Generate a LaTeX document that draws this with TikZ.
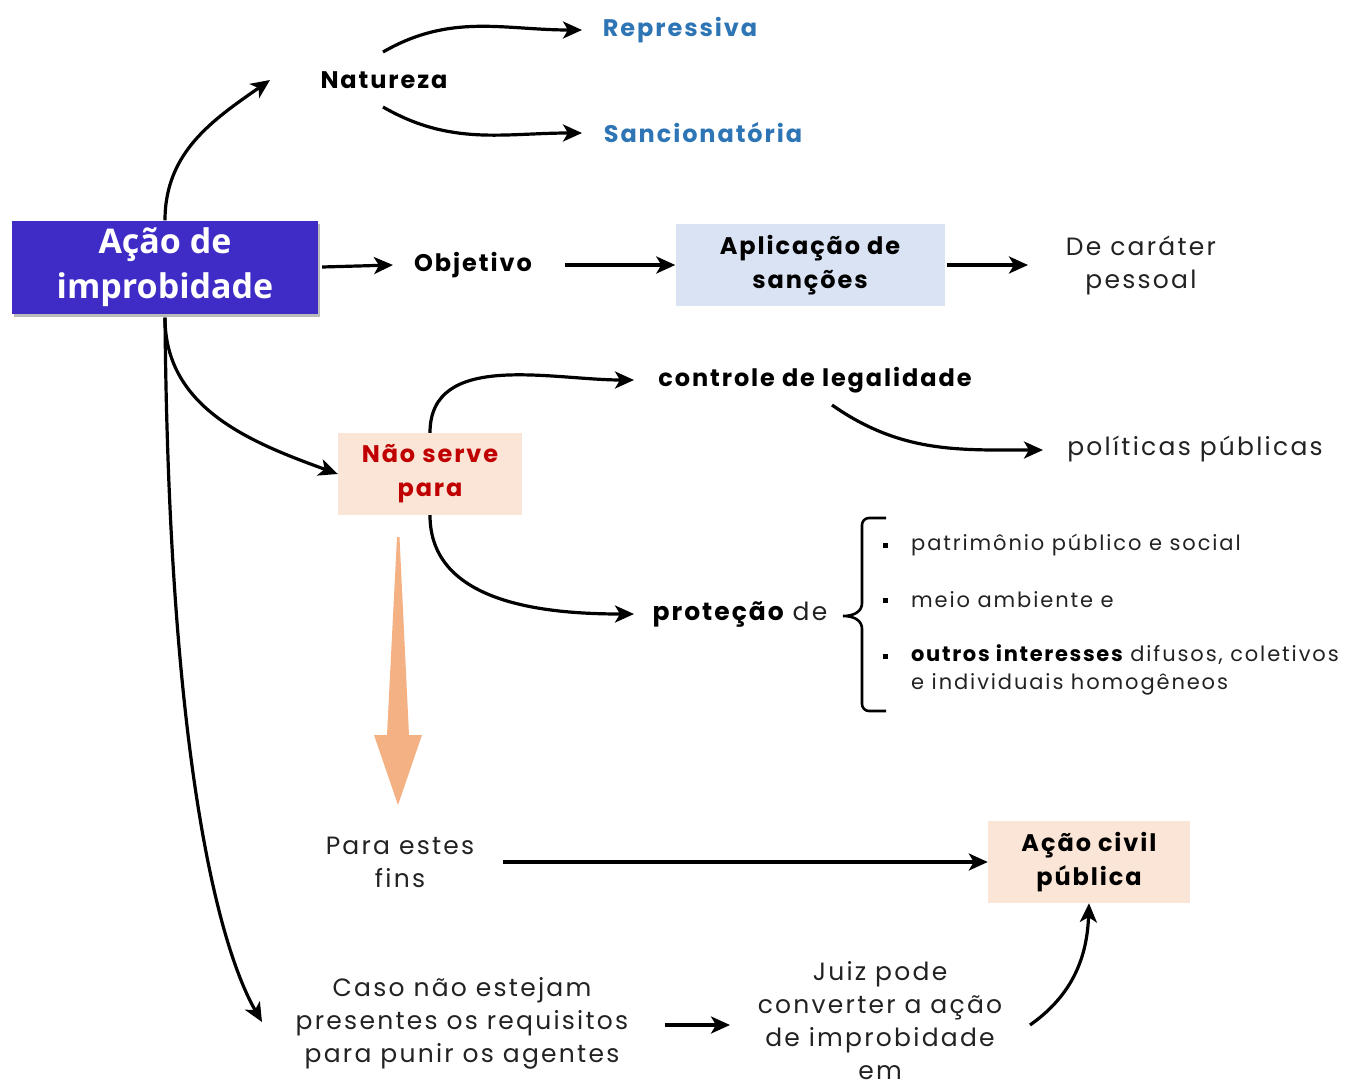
\documentclass[tikz,border=0pt]{standalone}
\usepackage{fontspec}
\setmainfont{Poppins}[LetterSpace=9]
\newfontfamily\titlefont{Open Sans}
\newfontfamily\boldfam{Poppins}[LetterSpace=8,UprightFont=* Bold]
\usetikzlibrary{arrows.meta,calc,shadows}
\definecolor{mainblue}{HTML}{3F2CC6}
\definecolor{lblue}{HTML}{DAE3F3}
\definecolor{peach}{HTML}{FBE5D6}
\definecolor{txtblue}{HTML}{2E75B6}
\definecolor{darkred}{HTML}{C00000}
\definecolor{orng}{HTML}{F4B183}
\definecolor{txtgray}{HTML}{222222}
\tikzset{
  arr/.style={line width=3.2pt,-{Stealth[length=19pt,width=17pt,inset=5pt]}},
  bt/.style={inner sep=0pt,font=\fontsize{24}{33}\selectfont\boldfam,text=black,align=center},
  rt/.style={inner sep=0pt,font=\fontsize{25}{33}\selectfont,text=txtgray,align=center},
  lt/.style={inner sep=0pt,font=\fontsize{21}{28}\selectfont,text=txtgray,anchor=west,align=left},
  boxnode/.style={inner sep=0pt,minimum width=#1,minimum height=82pt,align=center,font=\fontsize{24}{34}\selectfont\boldfam},
}
\begin{document}
\begin{tikzpicture}[x=1pt,y=1pt]
\useasboundingbox (0,0) rectangle (1353,-1082);
% main box
\node[fill=mainblue,minimum width=306pt,minimum height=93pt,inner sep=0pt,text=white,align=center,
  font=\titlefont\fontsize{34}{45}\selectfont\bfseries,
  drop shadow={shadow xshift=2pt,shadow yshift=-3pt,opacity=0.45,fill=black!60}] (main) at (165,-267) {Ação de\\improbidade};
% texts
\node[bt] (nat) at (384,-80) {Natureza};
\node[bt,text=txtblue] (rep) at (680,-30) {Repressiva};
\node[bt,text=txtblue] (sanc) at (703,-133) {Sancionatória};
\node[bt] (obj) at (473,-265) {Objetivo};
\node[boxnode=269pt,fill=lblue] (apl) at (810,-265) {Aplicação de\\sanções};
\node[rt] (car) at (1141,-265) {De caráter\\pessoal};
\node[boxnode=184pt,fill=peach,text=darkred] (nao) at (430,-474) {Não serve\\para};
\node[bt] (ctrl) at (815,-380) {controle de legalidade};
\node[rt] (pol) at (1195,-449) {políticas públicas};
\node[rt] (prot) at (740,-614) {{\boldfam\color{black}proteção} de};
\node[rt] (fins) at (400,-862) {Para estes\\fins};
\node[boxnode=202pt,fill=peach] (civ) at (1089,-862) {Ação civil\\pública};
\node[rt] (caso) at (462,-1023) {Caso não estejam\\presentes os requisitos\\para punir os agentes};
\node[rt] (juiz) at (880,-1021) {Juiz pode\\converter a ação\\de improbidade\\em};
% list
\node[lt] (l1) at (911,-545) {patrimônio público e social};
\node[lt] (l2) at (911,-600) {meio ambiente e};
\node[lt] (l3) at (911,-670) {{\boldfam\color{black}outros interesses} difusos, coletivos\\e individuais homogêneos};
\foreach \yy in {545,600,656} \fill[black] (882.5,-\yy+2.5) rectangle +(5,-5);
% brace
\draw[line width=2.6pt] (886,-518) -- (869,-518) arc(90:180:7) -- (862,-603)
  .. controls (862,-611) and (855,-616) .. (843,-616)
  .. controls (855,-616) and (862,-621) .. (862,-629) -- (862,-704) arc(180:270:7) -- (886,-711);
% orange arrow
\fill[orng] (397,-537) -- (399.5,-537) -- (409,-735) -- (422,-735) -- (398,-805) -- (374,-735) -- (387,-735) -- cycle;
% connectors
\draw[arr] (main.north) to[out=90,in=-145] ($(nat)+(-114,0)$);
\draw[arr] ($(nat)+(-1,28)$) to[out=30,in=180] ($(rep)+(-98,0)$);
\draw[arr] ($(nat)+(-1,-27)$) to[out=-30,in=180] ($(sanc)+(-121,0)$);
\draw[arr] ($(main.east)+(4,0)$) -- ($(obj)+(-80,0)$);
\draw[arr] ($(obj)+(92,0)$) -- (apl.west);
\draw[arr] ($(apl.east)+(2,0)$) -- ($(car)+(-113,0)$);
\draw[arr] ($(main.south)+(0,-4)$) to[out=-90,in=160] (nao.west);
\draw[arr] (nao.north) to[out=90,in=180] ($(ctrl)+(-181,0)$);
\draw[arr] ($(ctrl)+(17,-25)$) to[out=-35,in=180] ($(pol)+(-152,-1)$);
\draw[arr] (nao.south) to[out=-90,in=180] ($(prot)+(-106,0)$);
\draw[arr] ($(fins)+(103,0)$) -- (civ.west);
\draw[arr] ($(main.south)+(0,-4)$) .. controls ($(main.south)+(4,-460)$) and ($(caso)+(-240,70)$) .. ($(caso)+(-200,1)$);
\draw[arr] ($(caso)+(203,-2)$) -- ($(juiz)+(-150,-4)$);
\draw[arr] ($(juiz)+(150,-4)$) to[out=35,in=-92] (civ.south);
\end{tikzpicture}
\end{document}
